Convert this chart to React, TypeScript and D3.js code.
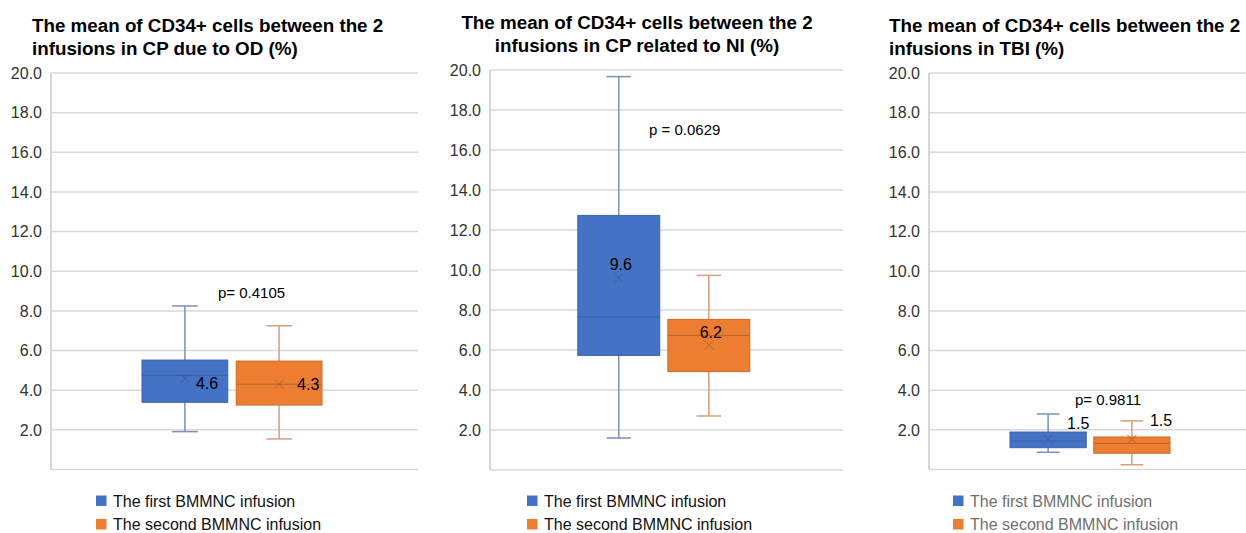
import React, { useEffect, useRef } from "react";
import * as d3 from "d3";

// chart data
const panelTitles = [
  ["The mean of CD34+ cells between the 2", "infusions in CP due to OD (%)"],
  ["The mean of CD34+ cells between the 2", "infusions in CP related to NI (%)"],
  ["The mean of CD34+ cells between the 2", "infusions in TBI (%)"],
];
const seriesNames = ["The first BMMNC infusion", "The second BMMNC infusion"];
const yTickValues = [0, 2, 4, 6, 8, 10, 12, 14, 16, 18, 20];

// per panel: [first infusion, second infusion]
const whiskerLow = [[1.91, 1.54], [1.6, 2.7], [0.87, 0.24]];
const quartile1 = [[3.39, 3.25], [5.73, 4.92], [1.1, 0.82]];
const medians = [[4.75, 4.3], [7.65, 6.73], [1.44, 1.32]];
const quartile3 = [[5.52, 5.47], [12.73, 7.53], [1.89, 1.64]];
const whiskerHigh = [[8.25, 7.25], [19.67, 9.73], [2.8, 2.45]];
const means = [[4.6, 4.3], [9.6, 6.25], [1.53, 1.52]];
const meanLabels = [["4.6", "4.3"], ["9.6", "6.2"], ["1.5", "1.5"]];
const pValues = ["p= 0.4105", "p = 0.0629", "p= 0.9811"];
const pValueY = [8.9, 17.0, 3.55];

// layout of the three panels (pixels)
const layout = [
  { x0: 51, x1: 418, yTop: 73, yBottom: 469.5, group: 180, shift: -2.5, titleX: 32, titleAnchor: "start", titleY: 32,
    pX: 218, labelDx: [11, 18], labelDy: [5, 0], legendX: 96, legendColor: "#111" },
  { x0: 490, x1: 843, yTop: 70, yBottom: 470, group: 172, shift: -2.7, titleX: 637, titleAnchor: "middle", titleY: 29,
    pX: 649, labelDx: [2, 2], labelDy: [-14, -13], legendX: 527, legendColor: "#111" },
  { x0: 929, x1: 1246, yTop: 73, yBottom: 469.5, group: 160, shift: 2.5, titleX: 889, titleAnchor: "start", titleY: 32,
    pX: 1075, labelDx: [19, 18], labelDy: [-16, -19], legendX: 953, legendColor: "#707070" },
];

const fills = ["#4472C4", "#ED7D31"];
const strokes = ["#3a64b0", "#cf6b27"];
const whiskerColors = ["#7d90bb", "#d69f7c"];
const markColors = ["#40609e", "#b9652f"];

export default function App() {
  const ref = useRef<SVGSVGElement>(null);

  useEffect(() => {
    const svg = d3.select(ref.current);
    svg.selectAll("*").remove();

    layout.forEach((L, p) => {
      const g = svg.append("g");

      // y scale
      const y = d3.scaleLinear().domain([0, 20]).range([L.yBottom, L.yTop]);

      // gridlines
      g.selectAll(".grid")
        .data(yTickValues)
        .enter()
        .append("line")
        .attr("x1", L.x0)
        .attr("x2", L.x1)
        .attr("y1", d => y(d))
        .attr("y2", d => y(d))
        .attr("stroke", "#d9d9d9")
        .attr("stroke-width", 1.5);

      // vertical axis line
      g.append("line")
        .attr("x1", L.x0)
        .attr("x2", L.x0)
        .attr("y1", y(20))
        .attr("y2", y(0))
        .attr("stroke", "#c8c8c8")
        .attr("stroke-width", 1.5);

      // tick labels
      g.selectAll(".tick")
        .data(yTickValues.filter(d => d > 0))
        .enter()
        .append("text")
        .attr("x", L.x0 - 9)
        .attr("y", d => y(d))
        .attr("dy", "0.36em")
        .attr("text-anchor", "end")
        .attr("font-family", "Liberation Sans, Arial, sans-serif")
        .attr("font-size", 16)
        .attr("fill", "#333")
        .text(d => d3.format(".1f")(d));

      // title
      g.selectAll(".title")
        .data(panelTitles[p])
        .enter()
        .append("text")
        .attr("x", L.titleX)
        .attr("y", (d, i) => L.titleY + i * 23)
        .attr("text-anchor", L.titleAnchor)
        .attr("font-family", "Liberation Sans, Arial, sans-serif")
        .attr("font-weight", "bold")
        .attr("font-size", 18.8)
        .attr("fill", "#000")
        .text(d => d);

      // boxes
      const cx = (L.x0 + L.x1) / 2 + L.shift;
      const x = d3.scaleBand()
        .domain(seriesNames)
        .range([cx - L.group / 2, cx + L.group / 2])
        .paddingInner(0.09);
      const bw = x.bandwidth();
      const cap = bw * 0.3;

      seriesNames.forEach((s, i) => {
        const left = x(s) as number;
        const mid = left + bw / 2;
        const b = g.append("g");

        // whisker
        b.append("line")
          .attr("x1", mid).attr("x2", mid)
          .attr("y1", y(whiskerHigh[p][i])).attr("y2", y(whiskerLow[p][i]))
          .attr("stroke", whiskerColors[i]).attr("stroke-width", 1.5);
        [whiskerHigh[p][i], whiskerLow[p][i]].forEach(v => {
          b.append("line")
            .attr("x1", mid - cap / 2).attr("x2", mid + cap / 2)
            .attr("y1", y(v)).attr("y2", y(v))
            .attr("stroke", whiskerColors[i]).attr("stroke-width", 1.5);
        });

        // box
        b.append("rect")
          .attr("x", left)
          .attr("y", y(quartile3[p][i]))
          .attr("width", bw)
          .attr("height", y(quartile1[p][i]) - y(quartile3[p][i]))
          .attr("fill", fills[i])
          .attr("stroke", strokes[i])
          .attr("stroke-width", 1);

        // median
        b.append("line")
          .attr("x1", left).attr("x2", left + bw)
          .attr("y1", y(medians[p][i])).attr("y2", y(medians[p][i]))
          .attr("stroke", markColors[i]).attr("stroke-width", 1);

        // mean marker
        const my = y(means[p][i]);
        const r = 4.5;
        b.append("path")
          .attr("d", `M${mid - r},${my - r}L${mid + r},${my + r}M${mid - r},${my + r}L${mid + r},${my - r}`)
          .attr("stroke", markColors[i]).attr("stroke-width", 1).attr("fill", "none");

        // mean label
        b.append("text")
          .attr("x", mid + L.labelDx[i])
          .attr("y", my + L.labelDy[i])
          .attr("dy", "0.36em")
          .attr("text-anchor", p === 1 ? "middle" : "start")
          .attr("font-family", "Liberation Sans, Arial, sans-serif")
          .attr("font-size", 16)
          .attr("fill", "#000")
          .text(meanLabels[p][i]);
      });

      // p value
      g.append("text")
        .attr("x", L.pX)
        .attr("y", y(pValueY[p]))
        .attr("dy", "0.36em")
        .attr("font-family", "Liberation Sans, Arial, sans-serif")
        .attr("font-size", 15)
        .attr("fill", "#000")
        .text(pValues[p]);

      // legend
      const lg = g.selectAll(".legend")
        .data(seriesNames)
        .enter()
        .append("g")
        .attr("transform", (d, i) => `translate(${L.legendX},${501 + i * 23.5})`);
      lg.append("rect")
        .attr("x", 0).attr("y", -5.5)
        .attr("width", 10.5).attr("height", 10.5)
        .attr("fill", (d, i) => fills[i]);
      lg.append("text")
        .attr("x", 17)
        .attr("y", 0)
        .attr("dy", "0.36em")
        .attr("font-family", "Liberation Sans, Arial, sans-serif")
        .attr("font-size", 16)
        .attr("fill", L.legendColor)
        .text(d => d);
    });
  }, []);

  return (
    <svg
      ref={ref}
      width={1246}
      height={533}
      style={{ position: "absolute", left: 0, top: 0, background: "#fff" }}
    />
  );
}
